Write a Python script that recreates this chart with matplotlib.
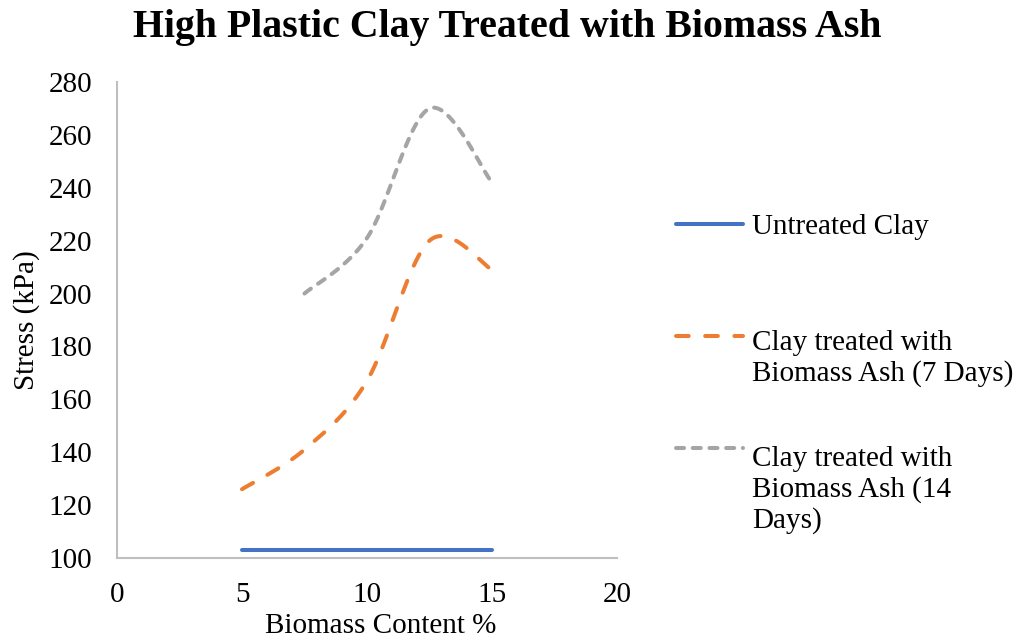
import numpy as np
import matplotlib
matplotlib.use("Agg")
import matplotlib.pyplot as plt
from matplotlib.lines import Line2D

# Daten
x_untreated = [5, 7.5, 10, 12.5, 15]
y_untreated = [103, 103, 103, 103, 103]
x_7days = [5, 7.5, 10, 12.5, 15]
y_7days = [126, 141, 167, 220, 209]
x_14days = [7.5, 10, 12.5, 15]
y_14days = [200, 221, 270, 242]

labels = ["Untreated Clay",
          "Clay treated with\nBiomass Ash (7 Days)",
          "Clay treated with\nBiomass Ash (14\nDays)"]
colors = ["#4472C4", "#ED7D31", "#A5A5A5"]


def smooth(xs, ys, n=40):
    # Excel-artige Glaettung (Catmull-Rom als Bezier)
    p = np.column_stack([xs, ys]).astype(float)
    ext = np.vstack([p[0], p, p[-1]])
    out = []
    t = np.linspace(0, 1, n)[:, None]
    for i in range(len(p) - 1):
        p0, p1, p2, p3 = ext[i], ext[i + 1], ext[i + 2], ext[i + 3]
        b1 = p1 + (p2 - p0) / 6
        b2 = p2 - (p3 - p1) / 6
        seg = ((1 - t) ** 3) * p1 + 3 * ((1 - t) ** 2) * t * b1 + 3 * (1 - t) * t ** 2 * b2 + t ** 3 * p2
        out.append(seg if i == 0 else seg[1:])
    out = np.vstack(out)
    return out[:, 0], out[:, 1]


plt.rcParams['font.family'] = ['Liberation Serif', 'DejaVu Serif']
FS = 21
LW = 2.9

fig = plt.figure(figsize=(10.21, 6.39), dpi=100)
ax = fig.add_axes([0.1146, 0.1268, 0.4897, 0.7449])

styles = [dict(linestyle="-"), dict(linestyle=(0, (3.15, 4.1))), dict(linestyle=(0, (2.0, 2.15)))]
series = [(x_untreated, y_untreated), (x_7days, y_7days), (x_14days, y_14days)]
for (xs, ys), c, st in zip(series, colors, styles):
    sx, sy = smooth(xs, ys)
    ax.plot(sx, sy, color=c, lw=LW, solid_capstyle="round", dash_capstyle="round", **st)

ax.set_xlim(0, 20)
ax.set_ylim(100, 280)
ax.set_xticks(range(0, 21, 5))
ax.set_yticks(range(100, 281, 20))
ax.tick_params(axis="y", length=0, labelsize=FS, pad=18)
ax.tick_params(axis="x", length=0, labelsize=FS, pad=17)
for s in ["top", "right"]:
    ax.spines[s].set_visible(False)
for s in ["left", "bottom"]:
    ax.spines[s].set_color("#BFBFBF")
    ax.spines[s].set_linewidth(1.5)

ax.set_xlabel("Biomass Content %", fontsize=FS)
ax.set_ylabel("Stress (kPa)", fontsize=FS)
ax.xaxis.set_label_coords((381 - 117) / 500, (558 - 626) / 476)
ax.xaxis.label.set_va("center")
ax.yaxis.set_label_coords((27 - 117) / 500, 0.5)
ax.yaxis.label.set_va("center")
fig.text(0.497, 1 - 28 / 639, "High Plastic Clay Treated with Biomass Ash",
         ha="center", va="center", fontsize=28.7, fontweight="bold")

# Legende
leg_y = [224, 336, 448]
for yy, lab, c, st in zip(leg_y, labels, colors, styles):
    fy = 1 - yy / 639
    fig.add_artist(Line2D([676 / 1021, 743 / 1021], [fy, fy], color=c, lw=LW,
                          solid_capstyle="round", dash_capstyle="round", **st))
    n = lab.count("\n")
    fig.text(752 / 1021, 1 - (yy + 10 + 35 * n) / 639, lab, ha="left", va="baseline",
             fontsize=FS, linespacing=1.2)

fig.savefig("out.png", dpi=100)
